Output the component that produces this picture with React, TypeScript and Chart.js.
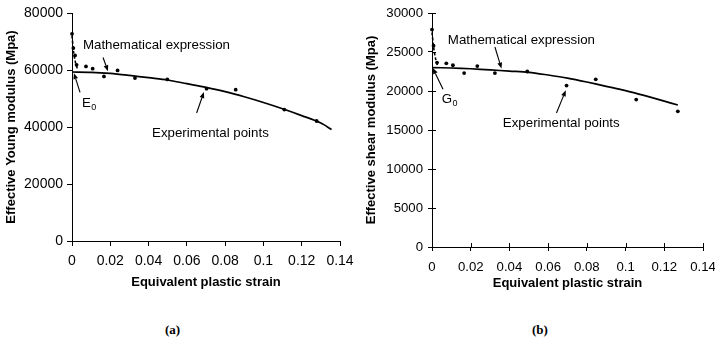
import React, { useEffect, useRef } from "react";
import { Chart, registerables } from "chart.js";

Chart.register(...registerables);

const SANS = "'Liberation Sans', Arial, Helvetica, sans-serif";
const SERIF = "'Liberation Serif', 'Times New Roman', serif";

// ---------- Data: (a) Young modulus ----------
const expStrainE = [0, 0.0007, 0.0016, 0.0024, 0.0073, 0.0108, 0.0167, 0.0238, 0.0329, 0.0498, 0.0703, 0.0855, 0.1109, 0.1278];
const expValueE = [72700, 67700, 65100, 61800, 61250, 60450, 57750, 59850, 57150, 56700, 53450, 53100, 46100, 42100];
const fitStrainE = [0, 0.01, 0.02, 0.03, 0.04, 0.05, 0.06, 0.07, 0.08, 0.09, 0.1, 0.11, 0.12, 0.13, 0.1356];
const fitValueE = [59300, 59200, 58800, 58100, 57300, 56500, 55200, 53900, 52400, 50600, 48600, 46400, 44000, 41400, 39100];
const dashStrainE = [0, 0.0008, 0.0017, 0.003];
const dashValueE = [72000, 66500, 63000, 60000];

// ---------- Data: (b) shear modulus ----------
const expStrainG = [0, 0.0008, 0.0026, 0.0074, 0.0108, 0.0166, 0.0234, 0.0325, 0.0492, 0.0695, 0.0846, 0.1055, 0.127];
const expValueG = [27870, 25800, 23650, 23550, 23300, 22300, 23200, 22300, 22500, 20700, 21500, 18900, 17400];
const fitStrainG = [0, 0.01, 0.02, 0.03, 0.04, 0.05, 0.06, 0.07, 0.08, 0.09, 0.1, 0.11, 0.12, 0.127];
const fitValueG = [23000, 22950, 22850, 22700, 22550, 22400, 22050, 21650, 21150, 20600, 20050, 19400, 18700, 18200];
const dashStrainG = [0, 0.0008, 0.0017, 0.003];
const dashValueG = [27500, 25700, 24300, 23100];

const strainMax = 0.14;
const strainStep = 0.02;

const toPts = (xs: number[], ys: number[]) => xs.map((x, i) => ({ x, y: ys[i] }));

type Ann = { text: string; sub?: string; x: number; y: number };
type Arrow = { x1: number; y1: number; x2: number; y2: number };

const annPlugin = {
  id: "annotations",
  afterDatasetsDraw(chart: any) {
    const o = chart.options.plugins.ann;
    if (!o) return;
    const { ctx, scales } = chart;
    const xs = scales.x, ys = scales.y;
    ctx.save();
    ctx.fillStyle = "#000";
    ctx.strokeStyle = "#000";
    ctx.textBaseline = "middle";
    ctx.textAlign = "left";
    for (const a of o.labels as Ann[]) {
      const px = xs.getPixelForValue(a.x);
      const py = ys.getPixelForValue(a.y);
      ctx.font = `13.3px ${SANS}`;
      ctx.fillText(a.text, px, py);
      if (a.sub) {
        const w = ctx.measureText(a.text).width;
        ctx.font = `9px ${SANS}`;
        ctx.fillText(a.sub, px + w + 0.5, py + 4);
      }
    }
    ctx.lineWidth = 1.1;
    for (const r of o.arrows as Arrow[]) {
      const x1 = xs.getPixelForValue(r.x1), y1 = ys.getPixelForValue(r.y1);
      const x2 = xs.getPixelForValue(r.x2), y2 = ys.getPixelForValue(r.y2);
      const ang = Math.atan2(y2 - y1, x2 - x1);
      const hl = 6, hw = 2.4;
      const bx = x2 - hl * Math.cos(ang), by = y2 - hl * Math.sin(ang);
      ctx.beginPath();
      ctx.moveTo(x1, y1);
      ctx.lineTo(bx, by);
      ctx.stroke();
      ctx.beginPath();
      ctx.moveTo(x2, y2);
      ctx.lineTo(bx + hw * Math.sin(ang), by - hw * Math.cos(ang));
      ctx.lineTo(bx - hw * Math.sin(ang), by + hw * Math.cos(ang));
      ctx.closePath();
      ctx.fill();
    }
    // inner tick halves (crossing ticks)
    if (o.innerTick) {
      const L = o.innerTick;
      const area = chart.chartArea;
      ctx.lineWidth = 1;
      ctx.beginPath();
      for (const t of xs.ticks) {
        const p = Math.round(xs.getPixelForValue(t.value)) + 0.5;
        ctx.moveTo(p, area.bottom);
        ctx.lineTo(p, area.bottom - L);
      }
      for (const t of ys.ticks) {
        const p = Math.round(ys.getPixelForValue(t.value)) + 0.5;
        ctx.moveTo(area.left, p);
        ctx.lineTo(area.left + L, p);
      }
      ctx.stroke();
    }
    ctx.restore();
  },
};

type PanelCfg = {
  exp: { x: number; y: number }[];
  fit: { x: number; y: number }[];
  dash: { x: number; y: number }[];
  yMax: number;
  yStep: number;
  yTitle: string;
  tickFont: number;
  yWidth: number;
  xHeight: number;
  xTick: number;
  xPad: number;
  yTick: number;
  yPad: number;
  yTitlePad: number;
  padding: { left: number; right: number; top: number; bottom: number };
  labels: Ann[];
  arrows: Arrow[];
  innerTick: number;
};

const zeroPad = (s: any) => {
  s.paddingLeft = 0;
  s.paddingRight = 0;
  s.paddingTop = 0;
  s.paddingBottom = 0;
};

function buildConfig(p: PanelCfg): any {
  return {
    type: "scatter",
    data: {
      datasets: [
        {
          data: p.fit,
          showLine: true,
          borderColor: "#000",
          borderWidth: 1.7,
          pointRadius: 0,
          tension: 0.3,
          clip: false,
        },
        {
          data: p.dash,
          showLine: true,
          borderColor: "#000",
          borderWidth: 1.6,
          borderDash: [3, 2],
          pointRadius: 0,
          tension: 0.3,
          clip: false,
        },
        {
          data: p.exp,
          showLine: false,
          backgroundColor: "#000",
          borderColor: "#000",
          pointRadius: 1.9,
          pointBorderWidth: 0,
          clip: false,
        },
      ],
    },
    options: {
      animation: false,
      responsive: false,
      maintainAspectRatio: false,
      events: [],
      layout: { padding: p.padding },
      plugins: {
        legend: { display: false },
        tooltip: { enabled: false },
        ann: { labels: p.labels, arrows: p.arrows, innerTick: p.innerTick },
      },
      scales: {
        x: {
          type: "linear",
          min: 0,
          max: strainMax,
          afterFit: (s: any) => { s.height = p.xHeight; zeroPad(s); },
          ticks: {
            stepSize: strainStep,
            color: "#000",
            font: { family: SANS, size: p.tickFont },
            padding: p.xPad,
            maxRotation: 0,
            callback: (v: any) => String(Number(Number(v).toFixed(2))),
          },
          grid: { drawOnChartArea: false, drawTicks: true, tickLength: p.xTick, color: "#000", tickColor: "#000", tickWidth: 1 },
          border: { display: true, color: "#000", width: 1 },
          title: {
            display: true,
            text: "Equivalent plastic strain",
            color: "#000",
            font: { family: SANS, size: 13, weight: "bold" },
            padding: { top: 0, bottom: 0 },
          },
        },
        y: {
          type: "linear",
          min: 0,
          max: p.yMax,
          afterFit: (s: any) => { s.width = p.yWidth; zeroPad(s); },
          ticks: {
            stepSize: p.yStep,
            color: "#000",
            font: { family: SANS, size: p.tickFont },
            padding: p.yPad,
            callback: (v: any) => String(v),
          },
          grid: { drawOnChartArea: false, drawTicks: true, tickLength: p.yTick, color: "#000", tickColor: "#000", tickWidth: 1 },
          border: { display: true, color: "#000", width: 1 },
          title: {
            display: true,
            text: p.yTitle,
            color: "#000",
            font: { family: SANS, size: 13, weight: "bold" },
            padding: { top: p.yTitlePad, bottom: 0 },
          },
        },
      },
    },
    plugins: [annPlugin],
  };
}

const panelA: PanelCfg = {
  exp: toPts(expStrainE, expValueE),
  fit: toPts(fitStrainE, fitValueE),
  dash: toPts(dashStrainE, dashValueE),
  yMax: 80000,
  yStep: 20000,
  yTitle: "Effective Young modulus (Mpa)",
  tickFont: 14,
  yWidth: 72,
  xHeight: 49,
  xTick: 5,
  xPad: 7,
  yTick: 5,
  yPad: 4,
  yTitlePad: 4,
  padding: { left: 0, right: 17, top: 13, bottom: 10 },
  labels: [
    { text: "Mathematical expression", x: 0.0057, y: 68600 },
    { text: "E", sub: "0", x: 0.0052, y: 48300 },
    { text: "Experimental points", x: 0.0418, y: 37800 },
  ],
  arrows: [
    { x1: 0.0162, y1: 64400, x2: 0.0188, y2: 59600 },
    { x1: 0.0042, y1: 52150, x2: 0.001, y2: 58900 },
    { x1: 0.0651, y1: 44900, x2: 0.0689, y2: 52250 },
  ],
  innerTick: 0,
};

const panelB: PanelCfg = {
  exp: toPts(expStrainG, expValueG),
  fit: toPts(fitStrainG, fitValueG),
  dash: toPts(dashStrainG, dashValueG),
  yMax: 30000,
  yStep: 5000,
  yTitle: "Effective shear modulus (Mpa)",
  tickFont: 13.2,
  yWidth: 75,
  xHeight: 44,
  xTick: 4,
  xPad: 8,
  yTick: 4,
  yPad: 5,
  yTitlePad: 7,
  padding: { left: 0, right: 12, top: 13, bottom: 9 },
  labels: [
    { text: "Mathematical expression", x: 0.0082, y: 26500 },
    { text: "G", sub: "0", x: 0.005, y: 18900 },
    { text: "Experimental points", x: 0.0366, y: 15900 },
  ],
  arrows: [
    { x1: 0.0325, y1: 25640, x2: 0.0359, y2: 22870 },
    { x1: 0.0057, y1: 20220, x2: 0.0004, y2: 22950 },
    { x1: 0.0643, y1: 17180, x2: 0.0691, y2: 20090 },
  ],
  innerTick: 4,
};

function Panel({ cfg, left, width }: { cfg: PanelCfg; left: number; width: number }) {
  const ref = useRef<HTMLCanvasElement | null>(null);
  useEffect(() => {
    if (!ref.current) return;
    const chart = new Chart(ref.current, buildConfig(cfg));
    return () => chart.destroy();
  }, [cfg]);
  return (
    <canvas
      ref={ref}
      width={width}
      height={300}
      style={{ position: "absolute", left, top: 0, width, height: 300 }}
    />
  );
}

export default function App() {
  const cap: React.CSSProperties = {
    position: "absolute",
    top: 322,
    fontFamily: SERIF,
    fontWeight: "bold",
    fontSize: 13,
    lineHeight: "16px",
    color: "#000",
  };
  return (
    <div style={{ position: "absolute", left: 0, top: 0, width: 715, height: 341, background: "#fff", overflow: "hidden" }}>
      <Panel cfg={panelA} left={0} width={357} />
      <Panel cfg={panelB} left={357} width={358} />
      <div style={{ ...cap, left: 165 }}>(a)</div>
      <div style={{ ...cap, left: 532 }}>(b)</div>
    </div>
  );
}
